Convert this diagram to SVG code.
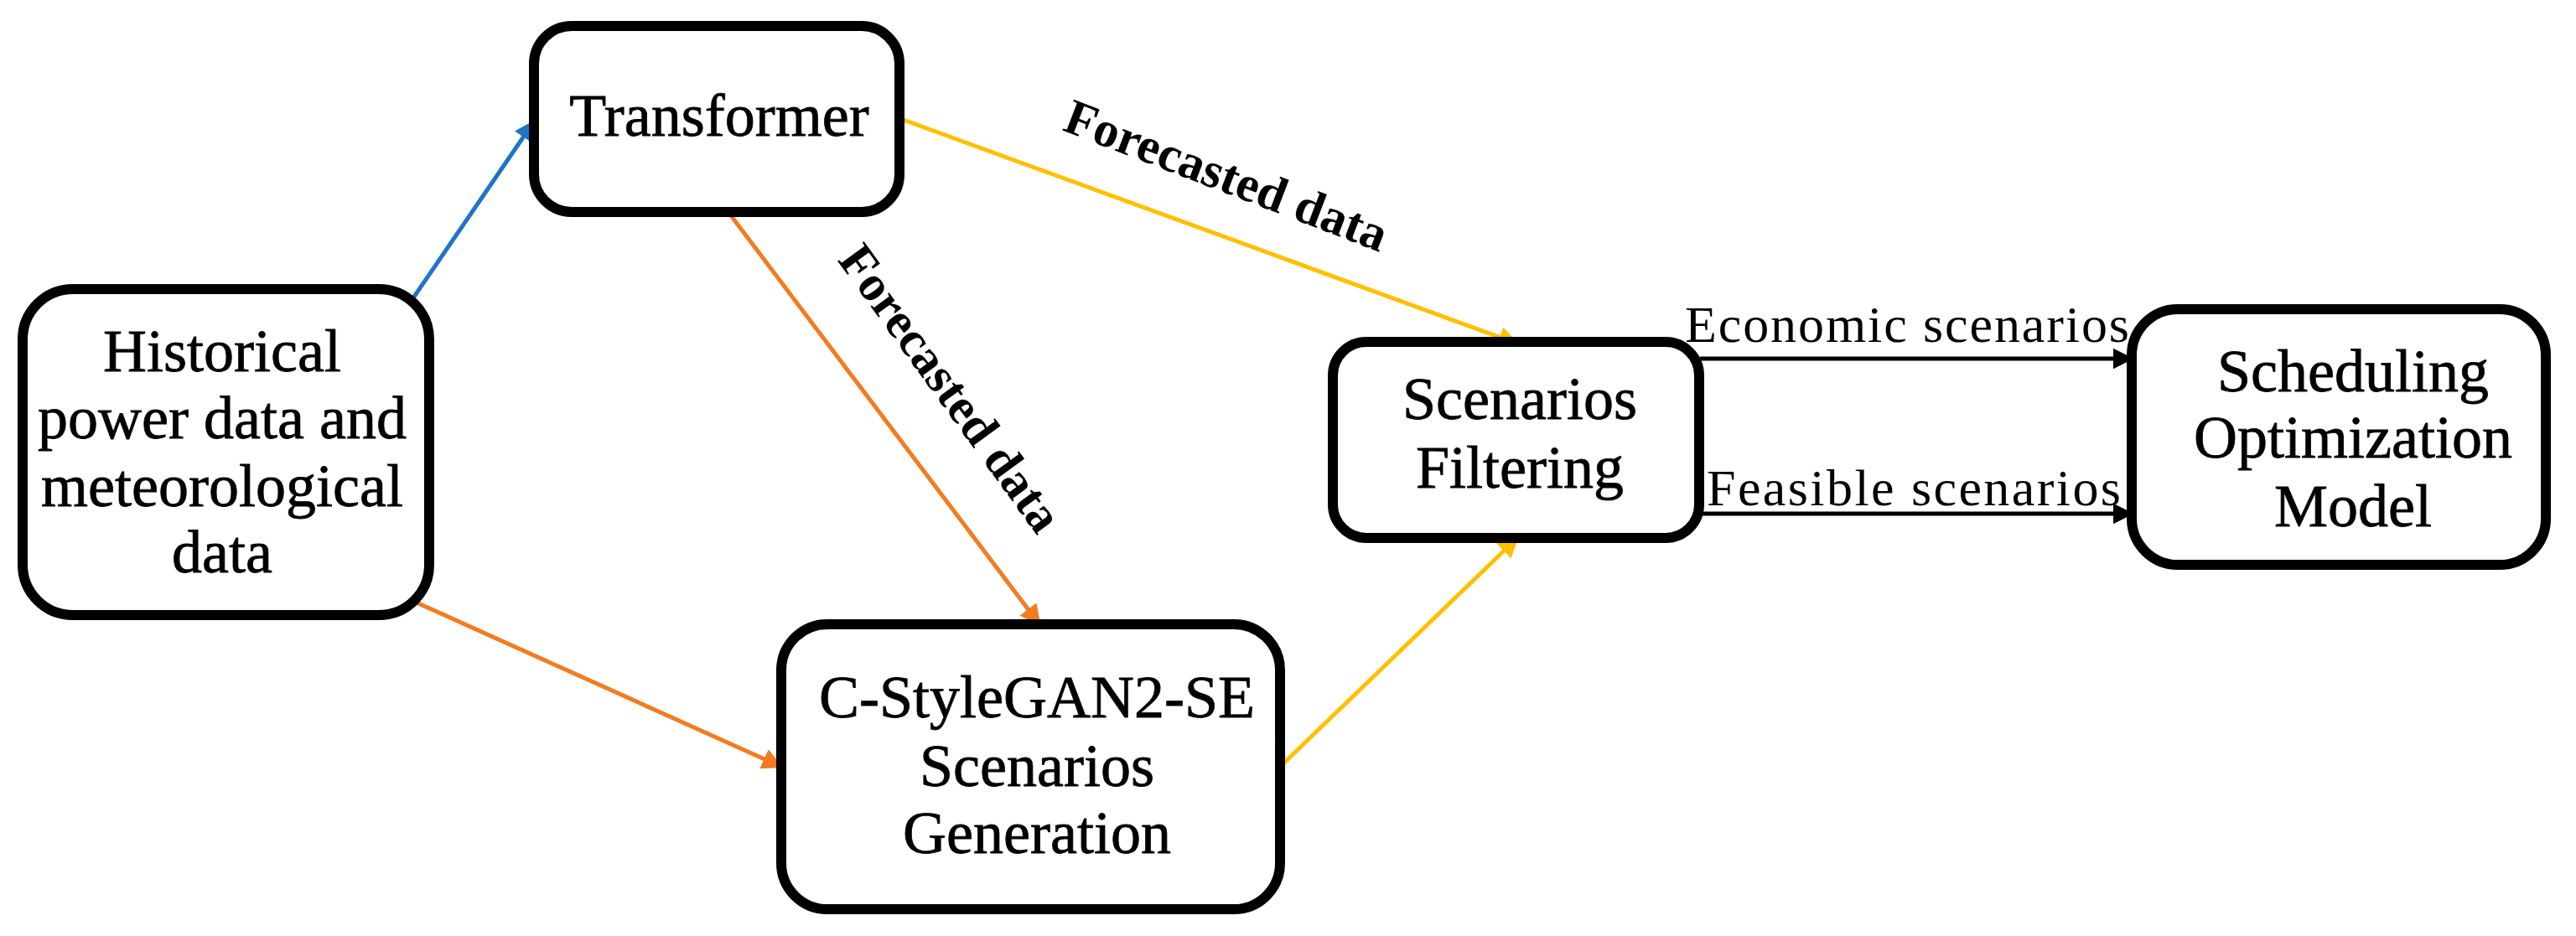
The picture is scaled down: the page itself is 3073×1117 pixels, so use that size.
<svg xmlns="http://www.w3.org/2000/svg" width="3073" height="1117" viewBox="0 0 3073 1117">
<style>
.box{fill:#fff;stroke:#000;stroke-width:12}
.t{font-family:"Liberation Serif",serif;font-size:72px;text-anchor:middle;fill:#000;stroke:#000;stroke-width:0.8}
.el{font-family:"Liberation Serif",serif;font-size:62px;fill:#000}
.fd{font-family:"Liberation Serif",serif;font-size:60px;font-weight:bold;fill:#000;text-anchor:middle}
.c{fill:none;stroke-width:5}
</style>
<defs>
<marker id="mb" viewBox="0 0 10 10" refX="9" refY="5" markerWidth="5" markerHeight="5" orient="auto" markerUnits="strokeWidth"><path d="M0,0L10,5L0,10z" fill="#1f74c8"/></marker>
<marker id="mo" viewBox="0 0 10 10" refX="9" refY="5" markerWidth="5" markerHeight="5" orient="auto" markerUnits="strokeWidth"><path d="M0,0L10,5L0,10z" fill="#f47b20"/></marker>
<marker id="my" viewBox="0 0 10 10" refX="9" refY="5" markerWidth="5" markerHeight="5" orient="auto" markerUnits="strokeWidth"><path d="M0,0L10,5L0,10z" fill="#ffc000"/></marker>
<marker id="mk" viewBox="0 0 10 10" refX="9" refY="5" markerWidth="5" markerHeight="5" orient="auto" markerUnits="strokeWidth"><path d="M0,0L10,5L0,10z" fill="#000"/></marker>
</defs>
<g id="connectors">
<line class="c" stroke="#1f74c8" x1="492" y1="357" x2="637" y2="145" marker-end="url(#mb)"/>
<line class="c" stroke="#f47b20" x1="868" y1="252" x2="1240" y2="745" marker-end="url(#mo)"/>
<line class="c" stroke="#f47b20" x1="490" y1="716" x2="932" y2="915" marker-end="url(#mo)"/>
<line class="c" stroke="#ffc000" x1="1075" y1="142" x2="1810" y2="410" marker-end="url(#my)"/>
<line class="c" stroke="#ffc000" x1="1527" y1="915" x2="1810" y2="642" marker-end="url(#my)"/>
<line class="c" stroke="#000" stroke-width="6" x1="2028" y1="428" x2="2543" y2="428" marker-end="url(#mk)"/>
<line class="c" stroke="#000" stroke-width="6" x1="2028" y1="613" x2="2543" y2="613" marker-end="url(#mk)"/>
<text class="fd" transform="translate(1456,228) rotate(21)">Forecasted data</text>
<text class="fd" transform="translate(1118,475) rotate(54)">Forecasted data</text>
<text class="el" x="2010" y="408" textLength="530">Economic scenarios</text>
<text class="el" x="2036" y="603" textLength="494">Feasible scenarios</text>
</g>
<g id="historical">
<rect class="box" x="27" y="345" width="485" height="389" rx="60"/>
<text class="t" x="265" y="443">Historical</text>
<text class="t" x="265" y="523">power data and</text>
<text class="t" x="265" y="604">meteorological</text>
<text class="t" x="265" y="683">data</text>
</g>
<g id="transformer">
<rect class="box" x="637" y="31" width="436" height="222" rx="45"/>
<text class="t" x="858" y="162">Transformer</text>
</g>
<g id="cstylegan">
<rect class="box" x="932" y="745" width="595" height="340" rx="55"/>
<text class="t" x="1237" y="856">C-StyleGAN2-SE</text>
<text class="t" x="1237" y="938">Scenarios</text>
<text class="t" x="1237" y="1018">Generation</text>
</g>
<g id="filtering">
<rect class="box" x="1590" y="408" width="437" height="234" rx="40"/>
<text class="t" x="1813" y="500">Scenarios</text>
<text class="t" x="1813" y="582">Filtering</text>
</g>
<g id="scheduling">
<rect class="box" x="2543" y="369" width="494" height="305" rx="55"/>
<text class="t" x="2807" y="467">Scheduling</text>
<text class="t" x="2807" y="546">Optimization</text>
<text class="t" x="2807" y="628">Model</text>
</g>
</svg>
